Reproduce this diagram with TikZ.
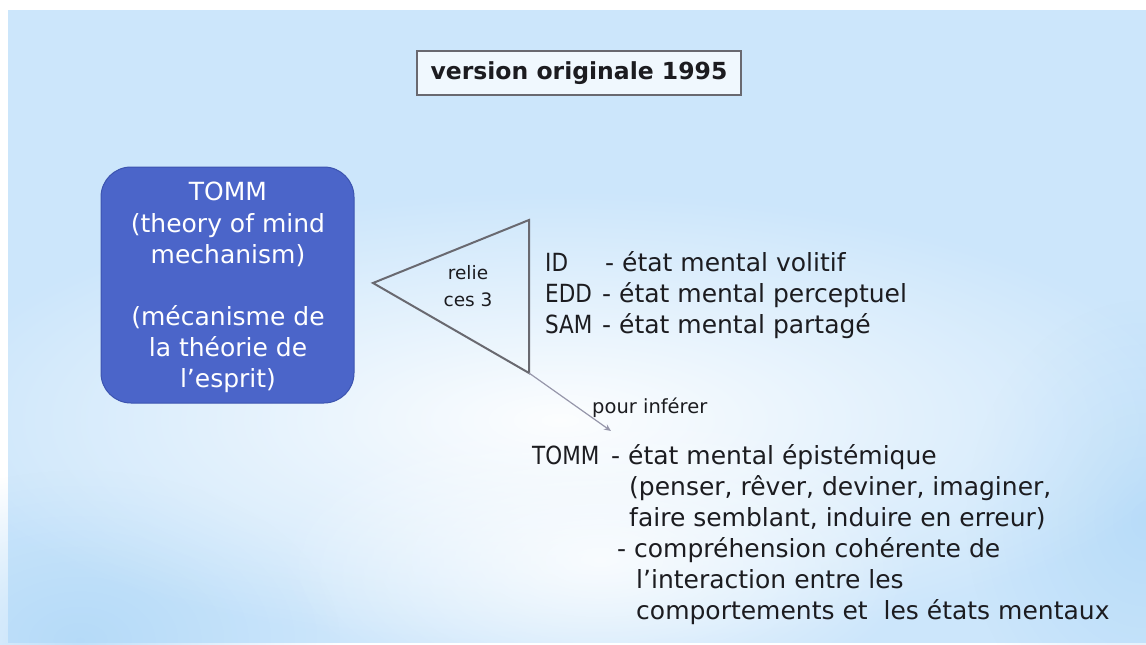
\documentclass[tikz,border=0pt]{standalone}
\usepackage{fontspec}
\setmainfont{DejaVu Sans}
\newfontfamily\labelfont[FakeStretch=0.86]{DejaVu Sans}
\usetikzlibrary{fadings,arrows.meta}
\definecolor{skyA}{RGB}{204,230,251}
\definecolor{skyB}{RGB}{176,216,248}
\definecolor{tommblue}{RGB}{75,101,201}
\definecolor{tommedge}{RGB}{60,84,176}
\definecolor{ink}{RGB}{28,28,32}
\definecolor{trigray}{RGB}{105,105,112}
\definecolor{arrowgray}{RGB}{150,150,170}
\tikzfading[name=softglow, inner color=transparent!0, outer color=transparent!100]
\tikzset{
  txt/.style={anchor=base west, inner sep=0pt, text=ink, font=\fontsize{25}{25}\selectfont},
  lbl/.style={txt, font=\labelfont\fontsize{25}{25}\selectfont},
  boxline/.style={anchor=base, inner sep=0pt, text=white, font=\fontsize{25}{25}\selectfont},
  small/.style={anchor=base, inner sep=0pt, text=ink, font=\fontsize{18.5}{18.5}\selectfont},
  titlebox/.style={draw=trigray, line width=1.2pt, fill=white!70!skyA, minimum width=324pt, minimum height=44pt, inner sep=0pt, font=\bfseries\fontsize{23.5}{23.5}\selectfont, text=ink},
  tommbox/.style={draw=tommedge, line width=1pt, fill=tommblue, rounded corners=30pt, minimum width=253pt, minimum height=236pt, inner sep=0pt},
  trianglepath/.style={draw=trigray, line width=2pt, line join=miter},
  infer/.style={draw=arrowgray, line width=1.2pt, -{Stealth[length=7pt,width=6pt]}}
}
\begin{document}
\begin{tikzpicture}[x=1pt,y=-1pt]
\useasboundingbox (0,0) rectangle (1146,645);
% slide background
\fill[white] (0,0) rectangle (1146,645);
\fill[skyA] (8,10) rectangle (1146,643);
\fill[skyB, path fading=softglow, opacity=0.8] (80,640) ellipse [x radius=260, y radius=170];
\fill[skyB, path fading=softglow, opacity=0.7] (1146,520) ellipse [x radius=180, y radius=220];
\fill[white, path fading=softglow, opacity=0.95] (560,420) ellipse [x radius=640, y radius=230];
\fill[white, path fading=softglow, opacity=0.8] (600,560) ellipse [x radius=320, y radius=150];

% title
\node[titlebox] (title) at (579,73) {version originale 1995};

% TOMM box
\node[tommbox] (tomm) at (227.5,285) {};
\node[boxline] (b1) at (228,200) {TOMM};
\node[boxline] (b2) at (228,232) {(theory of mind};
\node[boxline] (b3) at (228,263) {mechanism)};
\node[boxline] (b4) at (228,325) {(mécanisme de};
\node[boxline] (b5) at (228,356) {la théorie de};
\node[boxline] (b6) at (228,387) {l’esprit)};

% triangle linking the three modules
\coordinate (tA) at (373,283);
\coordinate (tB) at (529,220);
\coordinate (tC) at (529,373);
\draw[trianglepath] (tA) -- (tB) -- (tC) -- cycle;
\node[small] (relie) at (468,279) {relie};
\node[small] (ces) at (468,306) {ces 3};

% the three modules
\node[lbl] (id) at (545,271) {ID};
\node[txt] (idd) at (605,271) {- état mental volitif};
\node[lbl] (edd) at (545,302) {EDD};
\node[txt] (eddd) at (602,302) {- état mental perceptuel};
\node[lbl] (sam) at (545,333) {SAM};
\node[txt] (samd) at (602,333) {- état mental partagé};

% inference arrow
\coordinate (inf) at (611,431);
\draw[infer] (tC) -- (inf);
\node[small, anchor=base west, font=\fontsize{19.5}{19.5}\selectfont] (pour) at (592,413) {pour inférer};

% epistemic state
\node[lbl] (t1) at (532,464) {TOMM};
\node[txt] (t1d) at (611,464) {- état mental épistémique};
\node[txt] (t2) at (629,495) {(penser, rêver, deviner, imaginer,};
\node[txt] (t3) at (629,526) {faire semblant, induire en erreur)};
\node[txt] (t4) at (617,557) {- compréhension cohérente de};
\node[txt] (t5) at (636,588) {l’interaction entre les};
\node[txt] (t6) at (636,619) {comportements et\ \ les états mentaux};
\end{tikzpicture}
\end{document}
